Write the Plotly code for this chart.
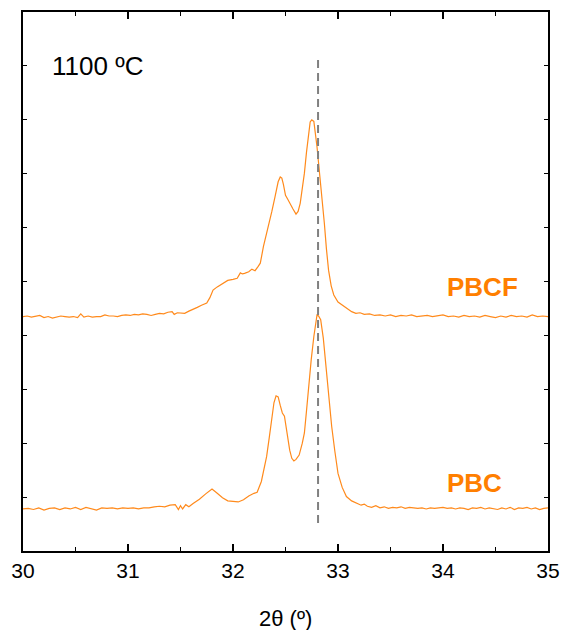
import plotly.graph_objects as go

# ---- data (2θ in degrees, intensity in a.u., offset stacked) ----
pbc_x = [30.00, 30.05, 30.10, 30.15, 30.20, 30.25, 30.30, 30.35, 30.40, 30.45,
         30.50, 30.55, 30.60, 30.65, 30.70, 30.75, 30.80, 30.85, 30.90, 30.95,
         31.00, 31.05, 31.10, 31.15, 31.20, 31.25, 31.30, 31.35, 31.40, 31.45,
         31.48, 31.50, 31.52, 31.55, 31.58, 31.62, 31.68, 31.74, 31.80, 31.85,
         31.90, 31.95, 32.00, 32.05, 32.10, 32.15, 32.20, 32.23, 32.27, 32.32,
         32.345, 32.37, 32.39, 32.41, 32.43, 32.45, 32.47, 32.49, 32.51, 32.54,
         32.56, 32.58, 32.60, 32.63, 32.66, 32.68, 32.70, 32.72, 32.745, 32.77,
         32.79, 32.80, 32.815, 32.835, 32.86, 32.886, 32.91, 32.94, 32.97, 33.00,
         33.04, 33.08, 33.13, 33.18, 33.22,
         33.25, 33.28, 33.32, 33.36, 33.40, 33.44, 33.48, 33.52, 33.56, 33.60,
         33.64, 33.68, 33.72, 33.76, 33.80, 33.84, 33.88, 33.92, 33.96, 34.00,
         34.04, 34.08, 34.12, 34.16, 34.20, 34.24, 34.28, 34.32, 34.36, 34.40,
         34.44, 34.48, 34.52, 34.56, 34.60, 34.64, 34.68, 34.72, 34.76, 34.80,
         34.84, 34.88, 34.92, 34.96, 35.00]
pbc_y = [0.78, 0.79, 0.77, 0.80, 0.76, 0.79, 0.80, 0.77, 0.80, 0.78,
         0.81, 0.77, 0.81, 0.78, 0.76, 0.80, 0.79, 0.80, 0.78, 0.80,
         0.79, 0.80, 0.78, 0.80, 0.80, 0.82, 0.83, 0.82, 0.85, 0.86,
         0.77, 0.84, 0.78, 0.86, 0.82, 0.88, 0.96, 1.06, 1.15, 1.07,
         0.99, 0.93, 0.92, 0.91, 0.95, 1.02, 1.07, 1.09, 1.29, 1.75,
         2.10, 2.43, 2.75, 2.88, 2.86, 2.70, 2.56, 2.50, 2.25, 1.87,
         1.72, 1.67, 1.70, 1.78, 2.00, 2.19, 2.60, 3.05, 3.55, 3.98,
         4.30, 4.38, 4.36, 4.29, 3.95, 3.42, 2.85, 2.31, 1.85, 1.44,
         1.18, 1.01, 0.93, 0.89, 0.85,
         0.87, 0.83, 0.81, 0.84, 0.80, 0.82, 0.79, 0.81, 0.80, 0.82,
         0.79, 0.81, 0.80, 0.79, 0.80, 0.78, 0.80, 0.79, 0.80, 0.81,
         0.79, 0.80, 0.78, 0.80, 0.79, 0.77, 0.80, 0.79, 0.81, 0.78,
         0.80, 0.79, 0.77, 0.80, 0.78, 0.81, 0.77, 0.80, 0.79, 0.81,
         0.78, 0.80, 0.77, 0.79, 0.80]

pbcf_x = [30.00, 30.04, 30.08, 30.12, 30.16, 30.20, 30.24, 30.28, 30.32, 30.36,
          30.40, 30.44, 30.48, 30.52, 30.55, 30.58, 30.62, 30.66, 30.70, 30.74,
          30.78, 30.82, 30.86, 30.90, 30.94, 30.98, 31.02, 31.06, 31.10, 31.14,
          31.18, 31.22, 31.26, 31.30, 31.34, 31.38, 31.42, 31.44, 31.47, 31.50,
          31.54, 31.58, 31.62, 31.66, 31.70, 31.75, 31.78, 31.81, 31.85, 31.90,
          31.95, 32.00, 32.04, 32.07, 32.09, 32.11, 32.15, 32.18, 32.21, 32.24,
          32.26, 32.29, 32.315, 32.34, 32.37, 32.40, 32.43, 32.45, 32.465, 32.48,
          32.50, 32.52, 32.54, 32.57, 32.60, 32.62, 32.64, 32.66, 32.68, 32.70,
          32.72, 32.735, 32.75, 32.77, 32.80, 32.83, 32.85, 32.87, 32.89, 32.91,
          32.935, 32.96, 33.00, 33.05, 33.09, 33.13, 33.17,
          33.21, 33.25, 33.30, 33.35, 33.40, 33.45, 33.50, 33.55, 33.60, 33.65,
          33.70, 33.75, 33.80, 33.85, 33.90, 33.95, 34.00, 34.05, 34.10, 34.15,
          34.20, 34.25, 34.30, 34.35, 34.40, 34.45, 34.50, 34.55, 34.60, 34.65,
          34.70, 34.75, 34.80, 34.85, 34.90, 34.95, 35.00]
pbcf_y = [4.35, 4.36, 4.34, 4.35, 4.37, 4.33, 4.35, 4.32, 4.34, 4.36,
          4.35, 4.34, 4.35, 4.33, 4.40, 4.34, 4.36, 4.34, 4.35, 4.35,
          4.38, 4.36, 4.36, 4.35, 4.37, 4.38, 4.37, 4.39, 4.38, 4.40,
          4.39, 4.37, 4.39, 4.41, 4.40, 4.43, 4.44, 4.39, 4.42, 4.42,
          4.41, 4.45, 4.48, 4.52, 4.56, 4.60, 4.70, 4.84, 4.90, 4.96,
          5.02, 5.04, 5.06, 5.16, 5.14, 5.15, 5.18, 5.23, 5.20, 5.28,
          5.34, 5.65, 5.85, 6.02, 6.30, 6.57, 6.85, 6.94, 6.92, 6.80,
          6.60, 6.53, 6.45, 6.35, 6.25, 6.30, 6.45, 6.70, 7.01, 7.40,
          7.75, 7.96, 8.00, 7.97, 7.50, 6.94, 6.50, 6.08, 5.60, 5.21,
          4.92, 4.75, 4.62, 4.55, 4.48, 4.44, 4.41,
          4.42, 4.39, 4.40, 4.37, 4.38, 4.36, 4.38, 4.35, 4.37, 4.36,
          4.38, 4.35, 4.36, 4.37, 4.35, 4.36, 4.38, 4.35, 4.36, 4.34,
          4.37, 4.35, 4.36, 4.34, 4.37, 4.35, 4.33, 4.36, 4.34, 4.37,
          4.35, 4.36, 4.34, 4.38, 4.35, 4.36, 4.35]

ref_x = [32.81, 32.81]
ref_y = [9.11, 0.48]

x_ticks = [30, 31, 32, 33, 34, 35]

labels = ["PBCF", "PBC"]
label_x = [34.38, 34.30]
label_y = [4.90, 1.26]

ORANGE_LINE = "#FF8A1C"
ORANGE_TEXT = "#FF7F00"
FONT = "Liberation Sans, Arial, sans-serif"

fig = go.Figure()
fig.add_trace(go.Scatter(x=pbcf_x, y=pbcf_y, mode="lines",
                         line=dict(color=ORANGE_LINE, width=1.2), showlegend=False))
fig.add_trace(go.Scatter(x=pbc_x, y=pbc_y, mode="lines",
                         line=dict(color=ORANGE_LINE, width=1.2), showlegend=False))
fig.add_trace(go.Scatter(x=ref_x, y=ref_y, mode="lines",
                         line=dict(color="#808080", width=2, dash="8px,5px"),
                         showlegend=False))

for t, lx, ly in zip(labels, label_x, label_y):
    fig.add_annotation(x=lx, y=ly, text="<b>%s</b>" % t, showarrow=False,
                       font=dict(family=FONT, size=26, color=ORANGE_TEXT),
                       xanchor="center", yanchor="middle")

fig.add_annotation(x=30.71, y=9.0, text="1100 ºC", showarrow=False,
                   font=dict(family=FONT, size=26, color="black"),
                   xanchor="center", yanchor="middle")

fig.add_annotation(x=0.5, y=-0.125, xref="paper", yref="paper",
                   text="2θ (º)", showarrow=False,
                   font=dict(family=FONT, size=22, color="black"),
                   xanchor="center", yanchor="middle")

fig.update_xaxes(range=[30, 35], tickvals=x_ticks,
                 ticktext=[str(v) for v in x_ticks],
                 ticks="inside", ticklen=7, tickwidth=1.5, tickcolor="black",
                 minor=dict(dtick=0.5, tick0=30, ticks="inside", ticklen=4,
                            tickwidth=1.2, tickcolor="black"),
                 showline=True, linecolor="black", linewidth=1.5, mirror="allticks",
                 showgrid=False, zeroline=False, automargin=False,
                 tickfont=dict(family=FONT, size=21, color="black"))
fig.update_yaxes(range=[0, 10], dtick=1, tick0=0, showticklabels=False,
                 ticks="inside", ticklen=4, tickwidth=1.2, tickcolor="black",
                 showline=True, linecolor="black", linewidth=1.5, mirror="allticks",
                 showgrid=False, zeroline=False, automargin=False)

fig.update_layout(width=563, height=630,
                  margin=dict(l=23, r=15, t=12, b=79),
                  plot_bgcolor="white", paper_bgcolor="white",
                  font=dict(family=FONT))

# remove the browser's default body margin so the figure fills the window exactly
fig.write_html("out.html", config={"displayModeBar": False},
               post_script="document.body.style.margin='0';"
                           "document.body.style.overflow='hidden';")
